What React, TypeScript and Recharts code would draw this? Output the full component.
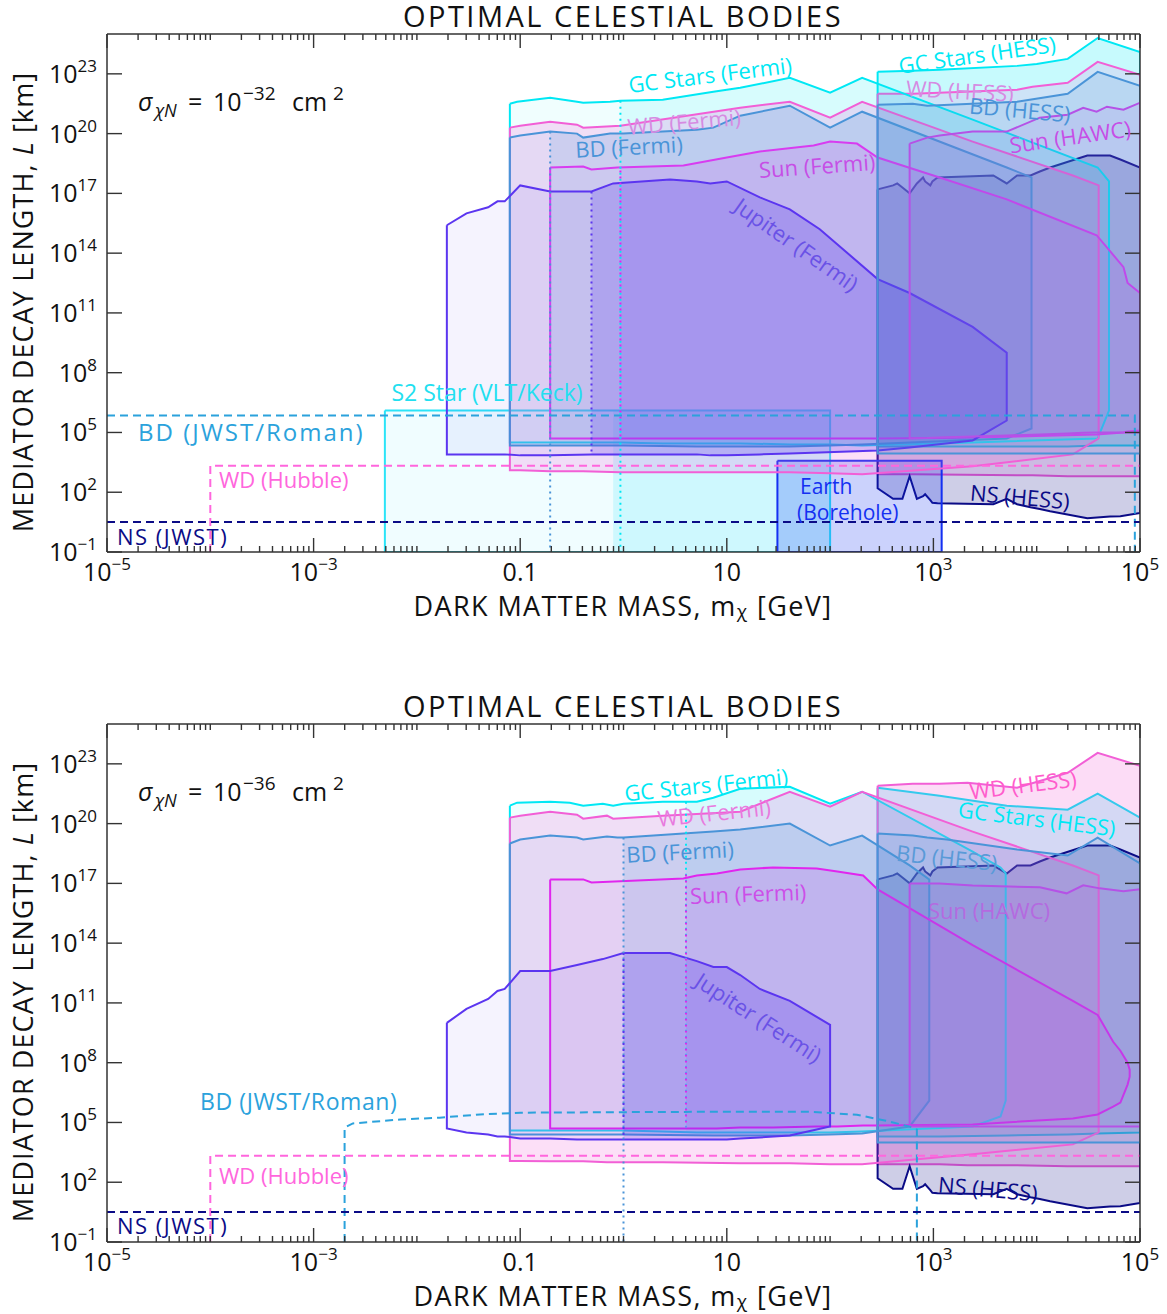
import React from 'react';
import { ComposedChart, Area, Line, XAxis, YAxis } from 'recharts';

// all values below are log10: mass in GeV, decay length L in km

// ---------- panel A: sigma = 1e-32 cm^2 ----------
const jupA_m = [-1.71, -1.52, -1.31, -1.22, -1.15, -1.0, -0.71, -0.31, -0.1, 0.45, 0.71, 0.84, 1.0, 1.32, 1.61, 1.9, 2.46, 2.77, 3.38, 3.71];
const jupA_top = [15.4, 16.0, 16.3, 16.6, 16.6, 17.4, 17.1, 17.1, 17.5, 17.7, 17.6, 17.5, 17.6, 16.8, 16.2, 15.2, 12.7, 12.0, 10.3, 9.0];
const jupA_bot = [3.9, 3.9, 3.9, 3.9, 3.9, 3.85, 3.85, 3.9, 3.9, 3.9, 3.9, 3.85, 3.85, 3.9, 3.95, 4.0, 4.1, 4.25, 4.6, 5.6];

const sunA_m = [-0.71, -0.39, -0.31, -0.06, 0.58, 1.0, 1.32, 1.84, 2.0, 2.26, 2.46, 3.06, 3.71, 4.58, 4.71, 4.84, 4.88, 5.0];
const sunA_top = [18.3, 18.35, 18.2, 18.3, 18.4, 18.8, 19.1, 19.4, 19.6, 19.5, 18.8, 17.8, 16.7, 14.9, 14.1, 13.3, 12.5, 12.0];
const sunA_bot = [4.7, 4.7, 4.7, 4.7, 4.7, 4.7, 4.7, 4.7, 4.7, 4.7, 4.7, 4.72, 4.78, 4.9, 4.95, 5.0, 5.05, 5.1];

const bdA_m = [-1.1, -1.0, -0.71, -0.45, -0.39, -0.13, 0.0, 0.71, 0.87, 1.13, 1.61, 2.0, 2.31, 3.71, 3.95];
const bdA_top = [19.8, 19.9, 20.1, 20.0, 19.8, 20.0, 20.0, 20.2, 20.3, 20.9, 21.4, 20.3, 21.1, 18.3, 17.8];
const bdA_bot = [4.35, 4.35, 4.35, 4.35, 4.35, 4.35, 4.35, 4.3, 4.3, 4.3, 4.3, 4.35, 4.4, 4.7, 5.2];

const wdA_m = [-1.1, -1.0, -0.71, -0.45, -0.39, -0.03, 1.13, 1.61, 2.0, 2.31, 3.38, 4.35, 4.6];
const wdA_top = [20.3, 20.4, 20.6, 20.45, 20.3, 20.4, 21.3, 21.6, 20.8, 21.6, 19.6, 17.9, 17.4];
const wdA_bot = [3.1, 3.1, 3.05, 3.05, 3.05, 3.0, 3.0, 3.0, 2.95, 2.9, 3.3, 3.9, 4.7];

const gcA_m = [-1.1, -1.03, -0.71, -0.45, -0.39, -0.13, -0.03, 0.38, 0.87, 1.13, 1.61, 2.0, 2.31, 3.38, 4.59, 4.7];
const gcA_top = [21.5, 21.6, 21.8, 21.6, 21.55, 21.6, 21.65, 21.7, 22.1, 22.3, 22.8, 22.05, 22.8, 20.7, 18.3, 17.6];
const gcA_bot = [4.5, 4.5, 4.5, 4.5, 4.5, 4.5, 4.5, 4.45, 4.45, 4.45, 4.4, 4.4, 4.35, 4.5, 4.7, 6.1];

const gcHessA_m = [2.46, 2.8, 3.06, 3.81, 4.0, 4.3, 4.59, 5.0];
const gcHessA_top = [23.1, 23.15, 23.2, 23.4, 23.5, 23.75, 24.8, 24.1];
const gcHessA_bot = [4.3, 4.3, 4.3, 4.3, 4.3, 4.3, 4.35, 4.35];

const wdHessA_m = [2.46, 2.8, 3.81, 3.96, 4.3, 4.59, 5.0];
const wdHessA_top = [22.0, 22.0, 22.2, 22.35, 22.55, 23.6, 22.95];
const wdHessA_bot = [2.9, 2.9, 2.85, 2.85, 2.8, 2.8, 2.8];

const bdHessA_m = [2.46, 2.8, 2.94, 3.81, 4.3, 4.59, 5.0];
const bdHessA_top = [21.45, 21.5, 21.4, 21.6, 22.0, 23.1, 22.4];
const bdHessA_bot = [3.95, 3.95, 3.95, 3.95, 3.95, 3.95, 3.95];

const hawcA_m = [2.77, 2.94, 3.06, 3.38, 3.71, 4.03, 4.3, 4.45, 4.58, 4.68, 4.84, 5.0];
const hawcA_top = [19.5, 19.8, 19.9, 20.1, 20.1, 20.8, 20.95, 21.3, 21.1, 21.35, 21.2, 21.55];
const hawcA_bot = [4.7, 4.72, 4.75, 4.8, 4.85, 4.9, 4.95, 4.98, 5.0, 5.0, 5.0, 5.0];

const nsHess_m = [2.46, 2.61, 2.65, 2.7, 2.77, 2.84, 2.9, 2.92, 2.97, 2.99, 3.04, 3.58, 3.71, 3.81, 3.94, 4.03, 4.13, 4.49, 4.71, 4.81, 5.0];
const nsHess_top = [17.2, 17.4, 17.5, 17.3, 17.0, 17.5, 17.8, 17.6, 17.4, 17.6, 17.8, 17.9, 17.5, 17.9, 17.9, 18.1, 18.3, 18.9, 18.9, 18.7, 18.3];
const nsHess_bot = [2.2, 1.67, 1.67, 1.67, 2.8, 1.67, 1.8, 1.9, 1.6, 1.47, 1.45, 1.4, 1.67, 1.4, 1.25, 1.16, 1.05, 0.7, 0.78, 0.8, 0.96];

const earthA_m = [1.49, 3.08];
const earthA_top = [3.58, 3.58];
const earthA_bot = [-1, -1];

const s2A_m = [-2.31, 2.0];
const s2A_top = [6.1, 6.1];
const s2A_bot = [-1, -1];

const bdJwstA_m = [-5, 4.95, 4.95];
const bdJwstA_L = [5.85, 5.85, -1];

// dotted edges: mass, upper L, lower L  (BD, Jupiter, GC, Sun)
const dotA_m = [-0.71, -0.31, -0.03, -0.03];
const dotA_hi = [20.1, 17.1, 21.65, 18.3];
const dotA_lo = [-1, 3.9, -1, 4.7];

// ---------- panel B: sigma = 1e-36 cm^2 ----------
const jupB_m = [-1.71, -1.52, -1.31, -1.22, -1.15, -1.0, -0.71, -0.45, -0.2, 0.0, 0.45, 0.71, 0.87, 1.0, 1.13, 1.32, 1.61, 1.87, 2.0];
const jupB_top = [10.0, 10.7, 11.2, 11.6, 11.7, 12.6, 12.6, 12.9, 13.2, 13.5, 13.5, 13.1, 12.8, 12.8, 12.4, 11.7, 11.1, 10.3, 9.9];
const jupB_bot = [4.7, 4.5, 4.4, 4.3, 4.3, 4.2, 4.2, 4.15, 4.15, 4.15, 4.15, 4.15, 4.15, 4.15, 4.2, 4.25, 4.35, 4.65, 4.8];

const sunB_m = [-0.71, -0.39, -0.31, 0.58, 0.71, 0.905, 1.13, 1.45, 1.87, 2.07, 2.32, 2.46, 3.38, 4.35, 4.59, 4.74, 4.81, 4.88, 4.9];
const sunB_top = [17.2, 17.2, 17.05, 17.25, 17.4, 17.5, 17.7, 17.8, 17.75, 17.6, 17.4, 16.7, 13.9, 11.1, 10.4, 9.05, 8.6, 8.0, 7.65];
const sunB_bot = [4.7, 4.7, 4.7, 4.7, 4.7, 4.7, 4.75, 4.75, 4.8, 4.8, 4.85, 4.85, 4.9, 5.2, 5.4, 5.8, 6.0, 6.9, 7.3];

const bdB_m = [-1.1, -1.0, -0.71, -0.45, -0.39, -0.16, -0.06, 0.0, 0.87, 1.13, 1.61, 2.0, 2.31, 2.77, 2.96];
const bdB_top = [19.0, 19.2, 19.4, 19.3, 19.2, 19.35, 19.3, 19.3, 19.6, 19.7, 20.0, 18.9, 19.4, 17.9, 17.2];
const bdB_bot = [4.4, 4.4, 4.4, 4.4, 4.4, 4.4, 4.4, 4.4, 4.35, 4.35, 4.35, 4.4, 4.45, 4.8, 6.1];

const wdB_m = [-1.1, -1.0, -0.71, -0.45, -0.39, -0.16, -0.1, 0.38, 1.13, 1.61, 2.0, 2.31, 3.38, 4.35, 4.6];
const wdB_top = [20.3, 20.4, 20.6, 20.45, 20.25, 20.4, 20.25, 20.4, 20.6, 21.6, 20.85, 21.6, 19.6, 17.9, 17.4];
const wdB_bot = [3.07, 3.07, 3.05, 3.05, 3.05, 3.0, 3.0, 3.0, 2.95, 2.95, 2.9, 2.9, 3.4, 3.9, 4.5];

const gcB_m = [-1.1, -1.03, -0.71, -0.52, -0.39, -0.2, -0.1, 0.0, 0.38, 0.71, 0.87, 1.13, 1.61, 2.0, 2.31, 3.38, 3.65, 3.7];
const gcB_top = [20.9, 21.05, 21.1, 21.05, 20.9, 21.0, 20.9, 21.0, 21.1, 21.1, 21.3, 21.75, 21.85, 21.0, 21.6, 18.6, 17.8, 17.5];
const gcB_bot = [4.6, 4.6, 4.6, 4.6, 4.6, 4.6, 4.6, 4.6, 4.55, 4.5, 4.5, 4.5, 4.5, 4.5, 4.55, 4.8, 5.3, 6.1];

const wdHessB_m = [2.46, 2.8, 3.06, 3.33, 3.81, 4.3, 4.59, 5.0];
const wdHessB_top = [21.9, 22.0, 22.0, 22.05, 21.8, 22.55, 23.55, 22.9];
const wdHessB_bot = [2.9, 2.9, 2.9, 2.85, 2.85, 2.8, 2.8, 2.8];

const gcHessB_m = [2.46, 3.06, 3.71, 4.3, 4.59, 5.0];
const gcHessB_top = [21.8, 21.4, 20.9, 20.7, 21.5, 20.3];
const gcHessB_bot = [4.3, 4.3, 4.35, 4.4, 4.45, 4.5];

const bdHessB_m = [2.46, 2.8, 2.94, 3.13, 3.81, 4.3, 4.59, 5.0];
const bdHessB_top = [19.5, 19.4, 19.3, 19.2, 18.7, 18.4, 19.3, 18.0];
const bdHessB_bot = [4.0, 4.0, 4.0, 4.0, 4.0, 4.0, 4.0, 4.0];

const hawcB_m = [2.77, 3.06, 3.38, 4.03, 4.29, 4.45, 4.61, 4.84, 5.0];
const hawcB_top = [17.0, 17.0, 16.9, 16.8, 16.5, 16.9, 16.75, 16.6, 16.7];
const hawcB_bot = [4.8, 4.8, 4.8, 4.8, 4.8, 4.8, 4.8, 4.8, 4.8];

const bdJwstB_m = [-2.7, -2.7, -2.62, -2.16, -1.78, -1.39, -1.0, 0.5, 1.13, 1.78, 2.26, 2.58, 2.77, 2.84, 2.84];
const bdJwstB_L = [-1, 4.74, 4.95, 5.15, 5.24, 5.4, 5.49, 5.53, 5.54, 5.54, 5.39, 5.04, 4.79, 4.64, -1];

// dotted edges (BD, Jupiter, GC, Sun)
const dotB_m = [0.0, 0.0, 0.605, 0.605];
const dotB_hi = [19.3, 13.5, 21.1, 17.6];
const dotB_lo = [-1, 4.15, 4.55, 4.75];

// shared dashed projections
const wdHubble_m = [-4, -4, 5];
const wdHubble_L = [-1, 3.33, 3.33];
const nsJwst_m = [-5, 5];
const nsJwst_L = [0.5, 0.5];

// axis ticks
const xDecades = [-5, -4, -3, -2, -1, 0, 1, 2, 3, 4];
const xLabelled = [-5, -3, -1, 1, 3, 5];
const yLabelled = [-1, 2, 5, 8, 11, 14, 17, 20, 23];

// ---------- styling ----------
const FONT = "'Open Sans', 'Noto Sans', sans-serif";
const CYAN = '#00e8f4';
const PINK = '#f25fd6';
const BDB = '#4a94d8';
const SUN = '#d83cf0';
const SUN2 = '#e026ee';
const HAWC = '#b552e6';
const JUP = '#5b35f0';
const NAVY = '#0b0b86';
const EARTH = '#1430f2';
const S2C = '#2ae4f8';
const JWSTB = '#2ba2dc';
const AXIS = '#333';

type Band = { m: number[]; top: number[]; bot: number[] };
const band = (m: number[], top: number[], bot: number[]): Band => ({ m, top, bot });

const lerp = (xs: number[], ys: number[], x: number) => {
  for (let i = 0; i < xs.length - 1; i++) {
    if (x >= xs[i] && x <= xs[i + 1]) {
      const t = (x - xs[i]) / (xs[i + 1] - xs[i] || 1);
      return ys[i] + t * (ys[i + 1] - ys[i]);
    }
  }
  return ys[ys.length - 1];
};

const areaRows = (b: Band, from?: number) => {
  const rows: { x: number; r: number[] }[] = [];
  if (from !== undefined) {
    rows.push({ x: 10 ** from, r: [10 ** lerp(b.m, b.bot, from), 10 ** lerp(b.m, b.top, from)] });
  }
  b.m.forEach((m, i) => {
    if (from === undefined || m > from) rows.push({ x: 10 ** m, r: [10 ** b.bot[i], 10 ** b.top[i]] });
  });
  return rows;
};

const ringRows = (b: Band) => {
  const pts = b.m.map((m, i) => ({ x: 10 ** m, y: 10 ** b.top[i] }));
  for (let i = b.m.length - 1; i >= 0; i--) pts.push({ x: 10 ** b.m[i], y: 10 ** b.bot[i] });
  pts.push(pts[0]);
  return pts;
};

const pathRows = (m: number[], L: number[]) => m.map((v, i) => ({ x: 10 ** v, y: 10 ** L[i] }));

type Region = { b: Band; c: string; s: string; o: number; from?: number; o2?: number };

// drawing order matters: later translucent fills veil earlier ones
const regionsA: Region[] = [
  { b: band(gcHessA_m, gcHessA_top, gcHessA_bot), c: CYAN, s: CYAN, o: 0.22 },
  { b: band(wdHessA_m, wdHessA_top, wdHessA_bot), c: PINK, s: PINK, o: 0.14 },
  { b: band(nsHess_m, nsHess_top, nsHess_bot), c: NAVY, s: NAVY, o: 0.2 },
  { b: band(s2A_m, s2A_top, s2A_bot), c: S2C, s: S2C, o: 0.07, from: -0.1, o2: 0.17 },
  { b: band(earthA_m, earthA_top, earthA_bot), c: EARTH, s: EARTH, o: 0.22 },
  { b: band(gcA_m, gcA_top, gcA_bot), c: CYAN, s: CYAN, o: 0.06, from: -0.03, o2: 0.1 },
  { b: band(wdA_m, wdA_top, wdA_bot), c: PINK, s: PINK, o: 0.2 },
  { b: band(bdA_m, bdA_top, bdA_bot), c: BDB, s: BDB, o: 0.06, from: -0.71, o2: 0.16 },
  { b: band(sunA_m, sunA_top, sunA_bot), c: SUN, s: SUN, o: 0.03, from: -0.03, o2: 0.13 },
  { b: band(jupA_m, jupA_top, jupA_bot), c: JUP, s: JUP, o: 0.06, from: -0.31, o2: 0.2 },
  { b: band(bdHessA_m, bdHessA_top, bdHessA_bot), c: BDB, s: BDB, o: 0.15 },
  { b: band(hawcA_m, hawcA_top, hawcA_bot), c: HAWC, s: HAWC, o: 0.1 },
];

const regionsB: Region[] = [
  { b: band(gcHessB_m, gcHessB_top, gcHessB_bot), c: CYAN, s: CYAN, o: 0.2 },
  { b: band(wdHessB_m, wdHessB_top, wdHessB_bot), c: PINK, s: PINK, o: 0.22 },
  { b: band(nsHess_m, nsHess_top, nsHess_bot), c: NAVY, s: NAVY, o: 0.2 },
  { b: band(gcB_m, gcB_top, gcB_bot), c: CYAN, s: CYAN, o: 0.06, from: 0.605, o2: 0.1 },
  { b: band(wdB_m, wdB_top, wdB_bot), c: PINK, s: PINK, o: 0.2 },
  { b: band(bdB_m, bdB_top, bdB_bot), c: BDB, s: BDB, o: 0.06, from: 0.0, o2: 0.16 },
  { b: band(sunB_m, sunB_top, sunB_bot), c: SUN, s: SUN2, o: 0.05, from: 0.605, o2: 0.12 },
  { b: band(jupB_m, jupB_top, jupB_bot), c: JUP, s: JUP, o: 0.06, from: 0.0, o2: 0.2 },
  { b: band(bdHessB_m, bdHessB_top, bdHessB_bot), c: BDB, s: BDB, o: 0.15 },
  { b: band(hawcB_m, hawcB_top, hawcB_bot), c: HAWC, s: HAWC, o: 0.1 },
];

const dotCols = [BDB, JUP, CYAN, SUN2];

const xTicks: number[] = [];
xDecades.forEach((k) => {
  for (let j = 1; j <= 9; j++) xTicks.push(Number((j * 10 ** k).toPrecision(6)));
});
xTicks.push(1e5);
const yTicks = yLabelled.map((e) => 10 ** e);

const supTxt = (e: number) => (e < 0 ? '\u2212' + Math.abs(e) : String(e));

const xTick = (side: 'b' | 't') => (p: any) => {
  const { x, y, payload } = p;
  const lg = Math.log10(payload.value);
  const e = Math.round(lg);
  const dec = Math.abs(lg - e) < 1e-6;
  const lab = dec && xLabelled.includes(e);
  const len = lab ? 14 : 6;
  const y2 = side === 'b' ? y - len : y + len;
  return (
    <g>
      <line x1={x} x2={x} y1={y} y2={y2} stroke={AXIS} strokeWidth={1.4} />
      {side === 'b' && lab && (
        <text x={x} y={y + 29} textAnchor="middle" fontSize={25} fill="#111" fontFamily={FONT}>
          {e === -1 ? '0.1' : e === 1 ? '10' : (
            <>
              10<tspan dy={-11} fontSize={17}>{supTxt(e)}</tspan>
            </>
          )}
        </text>
      )}
    </g>
  );
};

const yTick = (side: 'l' | 'r') => (p: any) => {
  const { x, y, payload } = p;
  const e = Math.round(Math.log10(payload.value));
  const x2 = side === 'l' ? x + 15 : x - 15;
  return (
    <g>
      <line x1={x} x2={x2} y1={y} y2={y} stroke={AXIS} strokeWidth={1.4} />
      {side === 'l' && (
        <text x={x - 10} y={y + 9} textAnchor="end" fontSize={25} fill="#111" fontFamily={FONT}>
          10<tspan dy={-11} fontSize={17}>{supTxt(e)}</tspan>
        </text>
      )}
    </g>
  );
};

const axisLine = { stroke: AXIS, strokeWidth: 1.5 };

function Panel({
  height, top, bottom, regions, dots, dashed,
}: {
  height: number; top: number; bottom: number; regions: Region[];
  dots: { m: number[]; hi: number[]; lo: number[] };
  dashed: { m: number[]; L: number[]; c: string }[];
}) {
  const common = { xAxisId: 'b', yAxisId: 'l', isAnimationActive: false } as const;
  const items: React.ReactElement[] = [];
  regions.forEach((g, i) => {
    const z = 100 + i * 3;
    items.push(
      <Area key={`f${i}`} {...common} zIndex={z} data={areaRows(g.b)} dataKey="r" type="linear"
        fill={g.c} fillOpacity={g.o} stroke="none" />,
    );
    if (g.from !== undefined) {
      items.push(
        <Area key={`s${i}`} {...common} zIndex={z + 1} data={areaRows(g.b, g.from)} dataKey="r" type="linear"
          fill={g.c} fillOpacity={g.o2} stroke="none" />,
      );
    }
    items.push(
      <Line key={`o${i}`} {...common} zIndex={z + 2} data={ringRows(g.b)} dataKey="y" type="linear"
        stroke={g.s} strokeWidth={2} dot={false} activeDot={false} />,
    );
  });
  return (
    <ComposedChart width={1167} height={height} margin={{ top: top - 1, right: 26, bottom: bottom - 1, left: 106 }}>
      <XAxis xAxisId="b" type="number" dataKey="x" scale="log" domain={[1e-5, 1e5]} allowDataOverflow
        ticks={xTicks} interval={0} tickSize={0} tickMargin={0} height={1} tickLine={false}
        axisLine={axisLine} tick={xTick('b')} />
      <XAxis xAxisId="t" orientation="top" type="number" dataKey="x" scale="log" domain={[1e-5, 1e5]} allowDataOverflow
        ticks={xTicks} interval={0} tickSize={0} tickMargin={0} height={1} tickLine={false}
        axisLine={axisLine} tick={xTick('t')} />
      <YAxis yAxisId="l" type="number" scale="log" domain={[0.1, 1e25]} allowDataOverflow
        ticks={yTicks} interval={0} tickSize={0} tickMargin={0} width={1} tickLine={false}
        axisLine={axisLine} tick={yTick('l')} />
      <YAxis yAxisId="r" orientation="right" type="number" scale="log" domain={[0.1, 1e25]} allowDataOverflow
        ticks={yTicks} interval={0} tickSize={0} tickMargin={0} width={1} tickLine={false}
        axisLine={axisLine} tick={yTick('r')} />

      {items}
      {dots.m.map((m, i) => (
        <Line key={`d${i}`} {...common} zIndex={180 + i} data={pathRows([m, m], [dots.hi[i], dots.lo[i]])} dataKey="y"
          type="linear" stroke={dotCols[i]} strokeWidth={2} strokeDasharray="2 4"
          strokeDashoffset={i === 3 ? 3 : 0} dot={false} activeDot={false} />
      ))}
      {dashed.map((d, i) => (
        <Line key={`j${i}`} {...common} zIndex={190 + i} data={pathRows(d.m, d.L)} dataKey="y" type="linear"
          stroke={d.c} strokeWidth={2} strokeDasharray="8 5" dot={false} activeDot={false} />
      ))}
    </ComposedChart>
  );
}

type Lab = { t: string; x: number; y: number; c: string; r?: number; a?: 'start' | 'middle'; s?: number; ls?: number };

const labelsA: Lab[] = [
  { t: 'GC Stars (Fermi)', x: 710, y: 74, c: CYAN, r: -7 },
  { t: 'WD (Fermi)', x: 684, y: 121, c: '#d68be2', r: -5 },
  { t: 'BD (Fermi)', x: 629, y: 146, c: BDB, r: -3 },
  { t: 'Sun (Fermi)', x: 817, y: 165, c: '#c64ee6', r: -4 },
  { t: 'Jupiter (Fermi)', x: 797, y: 244, c: '#6a52e6', r: 35 },
  { t: 'GC Stars (HESS)', x: 977, y: 54, c: CYAN, r: -8 },
  { t: 'WD (HESS)', x: 960, y: 90, c: '#d68be2', r: 3 },
  { t: 'BD (HESS)', x: 1020, y: 109, c: BDB, r: 5 },
  { t: 'Sun (HAWC)', x: 1070, y: 136, c: '#c64ee6', r: -8 },
  { t: 'S2 Star (VLT/Keck)', x: 487, y: 392, c: '#22dff0', r: 0, s: 23 },
  { t: 'BD (JWST/Roman)', x: 138, y: 431, c: JWSTB, a: 'start', s: 24, ls: 2 },
  { t: 'WD (Hubble)', x: 219, y: 479, c: '#ff66dd', a: 'start' },
  { t: 'NS (JWST)', x: 117, y: 536, c: NAVY, a: 'start', ls: 1.5 },
  { t: 'Earth', x: 800, y: 486, c: EARTH, a: 'start', s: 21 },
  { t: '(Borehole)', x: 797, y: 512, c: EARTH, a: 'start', s: 21 },
  { t: 'NS (HESS)', x: 1020, y: 496, c: NAVY, r: 5 },
];

const labelsB: Lab[] = [
  { t: 'GC Stars (Fermi)', x: 706, y: 784, c: CYAN, r: -6 },
  { t: 'WD (Fermi)', x: 714, y: 812, c: '#e87ade', r: -6 },
  { t: 'BD (Fermi)', x: 680, y: 851, c: BDB, r: -3 },
  { t: 'Sun (Fermi)', x: 748, y: 893, c: '#cc4ee8', r: -2 },
  { t: 'Jupiter (Fermi)', x: 759, y: 1017, c: '#6a52e6', r: 33 },
  { t: 'WD (HESS)', x: 1023, y: 784, c: '#ff5ccc', r: -7 },
  { t: 'GC Stars (HESS)', x: 1037, y: 818, c: CYAN, r: 7 },
  { t: 'BD (HESS)', x: 947, y: 857, c: '#5a9ad8', r: 6 },
  { t: 'Sun (HAWC)', x: 989, y: 910, c: '#b46ae0', r: 0 },
  { t: 'BD (JWST/Roman)', x: 200, y: 1101, c: JWSTB, a: 'start', s: 23, ls: 0.6 },
  { t: 'WD (Hubble)', x: 219, y: 1175, c: '#ff66dd', a: 'start' },
  { t: 'NS (JWST)', x: 117, y: 1225, c: NAVY, a: 'start', ls: 1.5 },
  { t: 'NS (HESS)', x: 988, y: 1188, c: NAVY, r: 5 },
];

function Labels({ list }: { list: Lab[] }) {
  return (
    <>
      {list.map((l, i) => (
        <text key={i} x={l.x} y={l.y} fill={l.c} fontSize={l.s || 22} fontFamily={FONT}
          letterSpacing={l.ls || 0} textAnchor={l.a || 'middle'} dominantBaseline="central"
          transform={l.r ? `rotate(${l.r} ${l.x} ${l.y})` : undefined}>
          {l.t}
        </text>
      ))}
    </>
  );
}

function Frame({ dy, sigma }: { dy: number; sigma: string }) {
  const by = 111 + dy;
  return (
    <g fontFamily={FONT} fill="#111">
      <text x={623} y={27 + dy} textAnchor="middle" fontSize={29} letterSpacing={2.5}>
        OPTIMAL CELESTIAL BODIES
      </text>
      <text x={623} y={605 + dy} textAnchor="middle" dominantBaseline="central" fontSize={27} letterSpacing={1.4}>
        DARK MATTER MASS, m<tspan dy={6} fontSize={19}>χ</tspan><tspan dy={-6}> [GeV]</tspan>
      </text>
      <text transform={`translate(22 ${302 + dy}) rotate(-90)`} textAnchor="middle" dominantBaseline="central" fontSize={27} letterSpacing={1.1}>
        MEDIATOR DECAY LENGTH, <tspan fontStyle="italic">L</tspan> [km]
      </text>
      <text y={by} fontSize={25}>
        <tspan x={138} fontStyle="italic">σ</tspan>
        <tspan x={155} fontStyle="italic" fontSize={18} dy={6}>χN</tspan>
        <tspan x={188} dy={-6}>=</tspan>
        <tspan x={213}>10</tspan>
        <tspan x={243} fontSize={19} dy={-11}>{sigma}</tspan>
        <tspan x={292} dy={11}>cm</tspan>
        <tspan x={333} fontSize={19} dy={-11}>2</tspan>
      </text>
    </g>
  );
}

export default function App() {
  return (
    <div style={{ position: 'relative', width: 1167, height: 1314, background: '#fff' }}>
      <style>{'body{margin:0}'}</style>
      <div style={{ position: 'absolute', left: 0, top: 0 }}>
        <Panel height={690} top={34} bottom={138} regions={regionsA}
          dots={{ m: dotA_m, hi: dotA_hi, lo: dotA_lo }}
          dashed={[
            { m: bdJwstA_m, L: bdJwstA_L, c: JWSTB },
            { m: wdHubble_m, L: wdHubble_L, c: '#ff66dd' },
            { m: nsJwst_m, L: nsJwst_L, c: NAVY },
          ]} />
      </div>
      <div style={{ position: 'absolute', left: 0, top: 690 }}>
        <Panel height={624} top={34} bottom={72} regions={regionsB}
          dots={{ m: dotB_m, hi: dotB_hi, lo: dotB_lo }}
          dashed={[
            { m: bdJwstB_m, L: bdJwstB_L, c: JWSTB },
            { m: wdHubble_m, L: wdHubble_L, c: '#ff66dd' },
            { m: nsJwst_m, L: nsJwst_L, c: NAVY },
          ]} />
      </div>
      <svg width={1167} height={1314} style={{ position: 'absolute', left: 0, top: 0, pointerEvents: 'none' }}>
        <Frame dy={0} sigma={'\u221232'} />
        <Frame dy={690} sigma={'\u221236'} />
        <Labels list={labelsA} />
        <Labels list={labelsB} />
      </svg>
    </div>
  );
}
